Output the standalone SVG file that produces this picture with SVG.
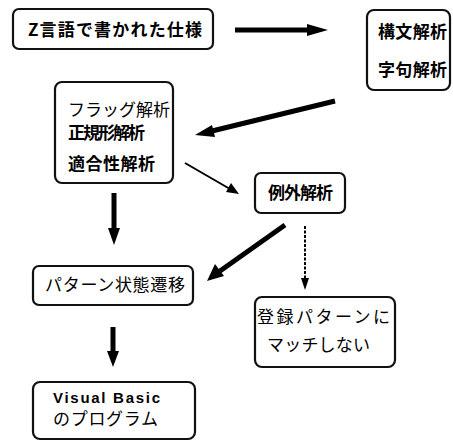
<svg xmlns="http://www.w3.org/2000/svg" width="453" height="441" viewBox="0 0 453 441">
<defs>
<style>
.box{fill:#fff;stroke:#111;stroke-width:2.2}
.t{font-family:"Noto Sans CJK JP","Noto Sans",sans-serif;font-size:17px;font-weight:bold;fill:#000}
.tl{font-family:"Noto Sans CJK JP","Noto Sans",sans-serif;font-size:17px;font-weight:normal;fill:#000}
.vb{font-family:"Liberation Sans",Arial,sans-serif;font-size:15px;font-weight:bold;fill:#000}
.thick{stroke:#000;stroke-width:5;fill:none}
.thin{stroke:#000;stroke-width:2;fill:none}
.dash{stroke:#000;stroke-width:2;stroke-dasharray:3 1.5;fill:none}
.head{fill:#000}
</style>
</defs>
<rect width="453" height="441" fill="#fff"/>
<g id="n1"><rect class="box" x="13" y="9" width="200" height="40" rx="6"/>
<text class="t" x="28" y="36" textLength="174" lengthAdjust="spacing">Z言語で書かれた仕様</text></g>
<g id="n2"><rect class="box" x="367" y="10" width="83" height="80" rx="7"/>
<text class="t" x="378" y="38" textLength="69" lengthAdjust="spacing">構文解析</text>
<text class="t" x="378" y="76" textLength="69" lengthAdjust="spacing">字句解析</text></g>
<g id="n3"><rect class="box" x="55" y="82" width="118" height="101" rx="7"/>
<text class="tl" x="68" y="116" textLength="102" lengthAdjust="spacing">フラッグ解析</text>
<text class="t" x="68" y="139" textLength="77" lengthAdjust="spacing">正規形解析</text>
<text class="t" x="68" y="170" textLength="87" lengthAdjust="spacing">適合性解析</text></g>
<g id="n4"><rect class="box" x="255" y="173" width="90" height="40" rx="6"/>
<text class="t" x="268" y="199" textLength="65" lengthAdjust="spacing">例外解析</text></g>
<g id="n5"><rect class="box" x="33" y="266" width="160" height="39" rx="6"/>
<text class="tl" x="45" y="291" textLength="140" lengthAdjust="spacing">パターン状態遷移</text></g>
<g id="n6"><rect class="box" x="255" y="297" width="140" height="70" rx="7"/>
<text class="tl" x="257" y="323" textLength="133" lengthAdjust="spacing">登録パターンに</text>
<text class="tl" x="267" y="351" textLength="103" lengthAdjust="spacing">マッチしない</text></g>
<g id="n7"><rect class="box" x="33" y="382" width="162" height="57" rx="7"/>
<text class="vb" x="53" y="403" textLength="107" lengthAdjust="spacing">Visual Basic</text>
<text class="tl" x="53" y="425" textLength="105" lengthAdjust="spacing">のプログラム</text></g>
<g id="connectors">
<line class="thick" x1="235" y1="30" x2="310" y2="30"/>
<polygon class="head" points="328,30 307,24 307,36"/>
<line class="thick" x1="335" y1="101" x2="212" y2="131"/>
<polygon class="head" points="195,135 212,125 215,137"/>
<line class="thin" x1="185" y1="163" x2="230" y2="189"/>
<polygon class="head" points="239,194 226,192 231,183"/>
<line class="thick" x1="114" y1="193" x2="114" y2="230"/>
<polygon class="head" points="114,245 108,228 120,228"/>
<line class="thick" x1="285" y1="225" x2="220" y2="271"/>
<polygon class="head" points="207,281 215,264 224,276"/>
<line class="dash" x1="305" y1="226" x2="305" y2="279"/>
<polygon class="head" points="305,290 301,278 309,278"/>
<line class="thick" x1="113" y1="327" x2="113" y2="354"/>
<polygon class="head" points="113,367 107,351 119,351"/>
</g>
</svg>
